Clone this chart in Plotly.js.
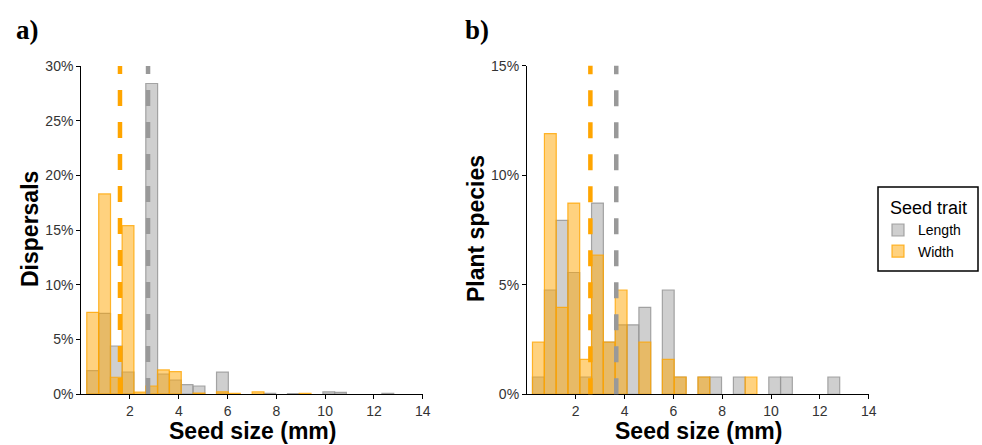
<!DOCTYPE html>
<html>
<head>
<meta charset="utf-8">
<script src="https://cdn.plot.ly/plotly-3.0.1.min.js"></script>
<style>
  html, body { margin: 0; padding: 0; background: #fff; }
  #chart { width: 982px; height: 445px; }
</style>
</head>
<body>
<div id="chart"></div>
<script>
// Bin centres (mm), shared by both histograms
const binCenters = [0.47, 0.96, 1.44, 1.92, 2.41, 2.89, 3.37, 3.86, 4.34, 4.83,
                    5.31, 5.79, 6.28, 6.76, 7.25, 7.73, 8.21, 8.70, 9.18, 9.67,
                    10.15, 10.63, 11.12, 11.60, 12.08, 12.57];

// Panel a) Dispersals (% of dispersals)
const dispLength = [2.13, 7.38, 4.39, 2.01, null, 28.4, 1.83, 1.28, 0.85, 0.73,
                    null, 2.0, null, null, null, 0.06, null, 0.04, null, null,
                    0.2, 0.15, null, null, null, 0.05];
const dispWidth  = [7.47, 18.3, 1.53, 15.4, 0.18, 0.73, 2.2, 2.04, null, 0.08,
                    null, 0.2, 0.05, null, 0.2, null, null, null, 0.05, null,
                    null, null, null, null, null, null];

// Panel b) Plant species (% of plant species)
const plantLength = [0.79, 4.76, 7.94, 5.56, 0.79, 8.73, 2.38, 3.17, 3.17, 3.97,
                     null, 4.76, 0.79, null, 0.79, 0.79, null, 0.79, null, null,
                     0.79, 0.79, null, null, null, 0.79];
const plantWidth  = [2.38, 11.9, 3.97, 8.73, 1.59, 6.35, 2.38, 4.76, null, 2.38,
                     null, 1.59, 0.79, null, 0.79, null, null, null, 0.79, null,
                     null, null, null, null, null, null];

// Mean seed size (mm): [Length, Width]
const meansDisp  = [2.74, 1.59];
const meansPlant = [3.66, 2.60];

const traitNames = ["Length", "Width"];
const xTicks = [2, 4, 6, 8, 10, 12, 14];
const yTicksA = [0, 5, 10, 15, 20, 25, 30];
const yTickTextA = ["0%", "5%", "10%", "15%", "20%", "25%", "30%"];
const yTicksB = [0, 5, 10, 15];
const yTickTextB = ["0%", "5%", "10%", "15%"];

const BIN_W = 0.484;
const W = 982, H = 445;
const fillC = ["rgba(160,160,160,0.5)", "rgba(255,165,0,0.5)"];
const lineC = ["rgba(150,150,150,0.85)", "rgba(255,165,0,0.8)"];
const meanC = ["#999999", "#FFA500"];

function barTrace(y, i, xa, ya, showlegend) {
  return {
    type: "bar", x: binCenters, y: y, width: BIN_W,
    name: traitNames[i], legendgroup: traitNames[i], showlegend: showlegend,
    xaxis: xa, yaxis: ya,
    marker: { color: fillC[i], line: { color: lineC[i], width: 1.2 } },
    hoverinfo: "x+y"
  };
}

const data = [
  barTrace(dispLength, 0, "x", "y", true),
  barTrace(dispWidth, 1, "x", "y", true),
  barTrace(plantLength, 0, "x2", "y2", false),
  barTrace(plantWidth, 1, "x2", "y2", false)
];

const px = v => v / W;
const py = v => (H - v) / H;

const font = "Liberation Sans, Arial, sans-serif";
const axisCommon = {
  showline: true, linecolor: "#000", linewidth: 1,
  ticks: "outside", ticklen: 4, tickcolor: "#000", tickwidth: 1,
  showgrid: false, zeroline: false,
  tickfont: { family: font, size: 14, color: "#333" }
};

const shapes = [];
[[meansDisp, "x", "y"], [meansPlant, "x2", "y2"]].forEach(([m, xr, yr]) => {
  m.forEach((v, i) => {
    shapes.push({
      type: "line", xref: xr, yref: yr + " domain",
      x0: v, x1: v, y0: 0, y1: 1,
      line: { color: meanC[i], width: 4.5, dash: "16px,16px" },
      layer: "above"
    });
  });
});
// legend frame
shapes.push({
  type: "rect", xref: "paper", yref: "paper",
  x0: px(878), x1: px(978), y0: py(271), y1: py(187),
  line: { color: "#000", width: 1.5 }, fillcolor: "rgba(0,0,0,0)", layer: "above"
});

const layout = {
  width: W, height: H,
  margin: { l: 0, r: 0, t: 0, b: 0 },
  paper_bgcolor: "#fff", plot_bgcolor: "#fff",
  barmode: "overlay", bargap: 0,
  showlegend: true,
  xaxis: Object.assign({}, axisCommon, {
    domain: [px(81.2), px(422.7)], range: [0, 14],
    tickmode: "array", tickvals: xTicks, anchor: "y"
  }),
  yaxis: Object.assign({}, axisCommon, {
    domain: [py(394), py(66)], range: [0, 30],
    tickmode: "array", tickvals: yTicksA, ticktext: yTickTextA, anchor: "x"
  }),
  xaxis2: Object.assign({}, axisCommon, {
    domain: [px(526.9), px(868.7)], range: [0, 14],
    tickmode: "array", tickvals: xTicks, anchor: "y2"
  }),
  yaxis2: Object.assign({}, axisCommon, {
    domain: [py(394.3), py(65.7)], range: [0, 15],
    tickmode: "array", tickvals: yTicksB, ticktext: yTickTextB, anchor: "x2"
  }),
  shapes: shapes,
  legend: {
    x: px(878), y: py(191), xanchor: "left", yanchor: "top",
    borderwidth: 0, bgcolor: "rgba(0,0,0,0)",
    font: { family: font, size: 14, color: "#000" },
    title: { text: "&nbsp;&nbsp;Seed trait", font: { family: font, size: 18, color: "#000" } },
    traceorder: "normal", tracegroupgap: 0
  },
  annotations: [
    { text: "<b>a)</b>", xref: "paper", yref: "paper", x: px(14), y: py(30),
      xanchor: "left", yanchor: "middle", showarrow: false,
      font: { family: "Liberation Serif, Times New Roman, serif", size: 27, color: "#000" } },
    { text: "<b>b)</b>", xref: "paper", yref: "paper", x: px(463), y: py(30),
      xanchor: "left", yanchor: "middle", showarrow: false,
      font: { family: "Liberation Serif, Times New Roman, serif", size: 27, color: "#000" } },
    { text: "<b>Dispersals</b>", xref: "paper", yref: "paper", x: px(30), y: py(229),
      xanchor: "center", yanchor: "middle", textangle: -90, showarrow: false,
      font: { family: font, size: 23, color: "#000" } },
    { text: "<b>Plant species</b>", xref: "paper", yref: "paper", x: px(476), y: py(229),
      xanchor: "center", yanchor: "middle", textangle: -90, showarrow: false,
      font: { family: font, size: 23, color: "#000" } },
    { text: "<b>Seed size (mm)</b>", xref: "paper", yref: "paper", x: px(252), y: py(431),
      xanchor: "center", yanchor: "middle", showarrow: false,
      font: { family: font, size: 23, color: "#000" } },
    { text: "<b>Seed size (mm)</b>", xref: "paper", yref: "paper", x: px(698), y: py(431),
      xanchor: "center", yanchor: "middle", showarrow: false,
      font: { family: font, size: 23, color: "#000" } }
  ]
};

Plotly.newPlot("chart", data, layout, { staticPlot: true, displayModeBar: false });
</script>
</body>
</html>
